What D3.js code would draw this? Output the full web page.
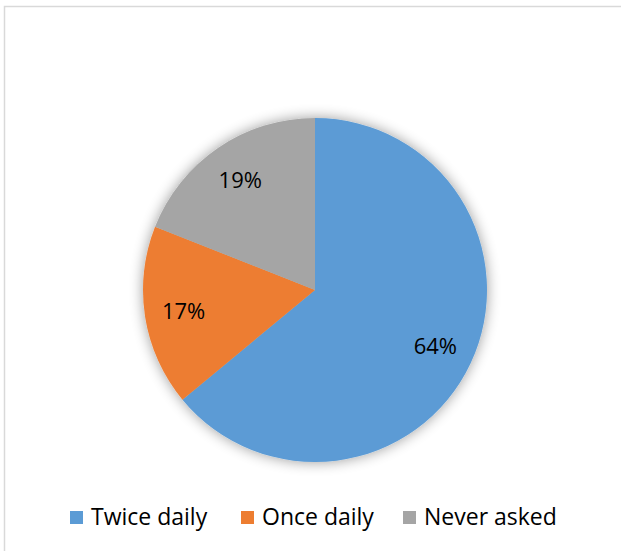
<!DOCTYPE html>
<html><head><meta charset="utf-8">
<script src="https://cdn.jsdelivr.net/npm/d3@7"></script>
<style>html,body{margin:0;padding:0;background:#fff;}svg{display:block;}</style>
</head><body>
<svg id="chart" width="621" height="551"></svg>
<script>
const categories = ["Twice daily", "Once daily", "Never asked"];
const values = [64, 17, 19];
const labels = ["64%", "17%", "19%"];
const colors = ["#5b9bd5", "#ed7d31", "#a5a5a5"];

const W = 621, H = 551;
const svg = d3.select("#chart");
const font = "'Open Sans', 'Noto Sans', sans-serif";

svg.append("rect").attr("width", W).attr("height", H).attr("fill", "#fff");
svg.append("path").attr("d", "M4.5,551 V6.5 H621").attr("fill", "none")
  .attr("stroke", "#d9d9d9").attr("stroke-width", 1.5);

const defs = svg.append("defs");
const f = defs.append("filter").attr("id", "shadow").attr("x", "-20%").attr("y", "-20%").attr("width", "140%").attr("height", "140%");
f.append("feGaussianBlur").attr("in", "SourceAlpha").attr("stdDeviation", 7).attr("result", "b");
f.append("feOffset").attr("in", "b").attr("dx", 0).attr("dy", 0).attr("result", "o");
f.append("feComponentTransfer").attr("in", "o").attr("result", "s")
  .append("feFuncA").attr("type", "linear").attr("slope", 0.4);
const m = f.append("feMerge");
m.append("feMergeNode").attr("in", "s");
m.append("feMergeNode").attr("in", "SourceGraphic");

const cx = 315, cy = 290, r = 172;
const pie = d3.pie().sort(null).value(d => d)(values);
const arc = d3.arc().innerRadius(0).outerRadius(r);
const g = svg.append("g").attr("transform", `translate(${cx},${cy})`);
g.append("g").attr("filter", "url(#shadow)").selectAll("path").data(pie).join("path")
  .attr("d", arc).attr("fill", (d, i) => colors[i]);

const labelArc = d3.arc().innerRadius(133).outerRadius(133);
g.selectAll("text").data(pie).join("text")
  .attr("transform", d => `translate(${labelArc.centroid(d)})`)
  .attr("text-anchor", "middle").attr("dy", "0.35em")
  .attr("font-family", font).attr("font-size", 22).attr("fill", "#000")
  .text((d, i) => labels[i]);

const legendX = [70, 241, 403];
const lg = svg.append("g");
categories.forEach((c, i) => {
  lg.append("rect").attr("x", legendX[i]).attr("y", 511).attr("width", 13).attr("height", 13).attr("fill", colors[i]);
  lg.append("text").attr("x", legendX[i] + 21).attr("y", 525)
    .attr("font-family", font).attr("font-size", 23).attr("fill", "#000").text(c);
});
</script>
</body></html>
